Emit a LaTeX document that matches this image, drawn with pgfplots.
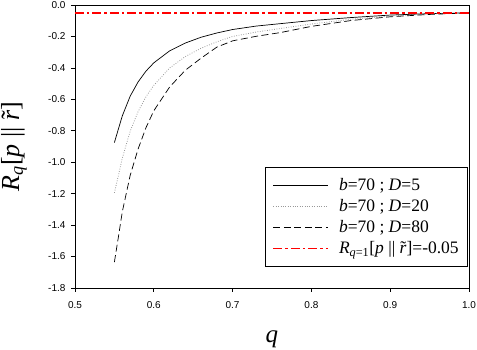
\documentclass[border=0pt]{standalone}
\usepackage{pgfplots}
\pgfplotsset{compat=1.18}
\usepackage{fontspec}
\setmainfont{Liberation Serif}
\newfontfamily\arial{Liberation Sans}
\newcommand{\rtilde}{\textit{r}\llap{\char"02DC\kern0.02em}}

\pgfplotstableread{
q      y
0.550 -0.875
0.555 -0.790
0.560 -0.706
0.570 -0.580
0.580 -0.490
0.590 -0.421
0.600 -0.368
0.620 -0.292
0.640 -0.242
0.660 -0.205
0.680 -0.178
0.700 -0.156
0.730 -0.134
0.760 -0.119
0.800 -0.099
0.850 -0.080
0.900 -0.064
0.950 -0.055
1.000 -0.050
}\dfive

\pgfplotstableread{
q      y
0.550 -1.195
0.555 -1.086
0.560 -0.975
0.570 -0.803
0.580 -0.679
0.590 -0.584
0.600 -0.511
0.620 -0.401
0.640 -0.328
0.660 -0.275
0.680 -0.234
0.700 -0.200
0.730 -0.172
0.760 -0.150
0.800 -0.121
0.850 -0.091
0.900 -0.070
0.950 -0.057
1.000 -0.050
}\dtwenty

\pgfplotstableread{
q      y
0.550 -1.635
0.555 -1.478
0.560 -1.316
0.570 -1.084
0.580 -0.917
0.590 -0.781
0.600 -0.673
0.620 -0.522
0.640 -0.415
0.660 -0.338
0.680 -0.268
0.700 -0.228
0.730 -0.199
0.760 -0.176
0.800 -0.136
0.850 -0.099
0.900 -0.075
0.950 -0.060
1.000 -0.050
}\deighty

\begin{document}
\begin{tikzpicture}
\begin{axis}[
    scale only axis,
    width=394pt, height=283pt,
    xmin=0.5, xmax=1.0,
    ymin=-1.8, ymax=0,
    xtick={0.5,0.6,0.7,0.8,0.9,1.0},
    ytick={-1.8,-1.6,-1.4,-1.2,-1.0,-0.8,-0.6,-0.4,-0.2,0},
    tick align=outside,
    tick pos=left,
    major tick length=4pt,
    tick style={black, line width=0.6pt},
    axis line style={line width=0.8pt},
    /pgf/number format/assume math mode=true,
    ticklabel style={font=\arial\fontsize{10}{12}\selectfont},
    xticklabel style={yshift=-6pt, /pgf/number format/.cd, fixed, fixed zerofill, precision=1},
    yticklabel style={xshift=-2pt, /pgf/number format/.cd, fixed, fixed zerofill, precision=1},
    xlabel={\textit{q}},
    ylabel={\textit{R}\textsubscript{\textit{q}}[\textit{p}~||~\rtilde]},
    xlabel style={at={(axis description cs:0.5,-0.18)}, anchor=center,
        font=\fontsize{25}{28}\selectfont},
    ylabel style={at={(axis description cs:-0.155,0.5)}, anchor=center,
        font=\fontsize{26}{30}\selectfont},
    legend style={at={(rel axis cs:0.9975,0.4276)}, anchor=north east,
        draw=black, line width=0.6pt, font=\fontsize{17.5}{19}\selectfont,
        cells={anchor=west}, inner xsep=7pt, inner ysep=9pt, row sep=3.5pt,
        /tikz/every odd column/.append style={column sep=8pt}},
    legend image code/.code={\draw[#1] (0pt,0pt) -- (55pt,0pt);},
]
\addplot[black, line width=0.7pt] table[x=q, y=y] {\dfive};
\addlegendentry{\textit{b}=70 ; \textit{D}=5}
\addplot[gray!80, line width=0.8pt, dash pattern=on 0.8pt off 1.6pt] table[x=q, y=y] {\dtwenty};
\addlegendentry{\textit{b}=70 ; \textit{D}=20}
\addplot[black, line width=0.7pt, dash pattern=on 7pt off 3.5pt] table[x=q, y=y] {\deighty};
\addlegendentry{\textit{b}=70 ; \textit{D}=80}
\addplot[red, line width=1.4pt, dash pattern=on 9pt off 3pt on 2.5pt off 3pt] coordinates {(0.5,-0.05) (1.0,-0.05)};
\addlegendentry{\textit{R}\textsubscript{\textit{q}=1}[\textit{p}~||~\rtilde]=-0.05}
\end{axis}
\pgfresetboundingbox
\path (-75pt,-62pt) rectangle (402pt,288pt);
\end{tikzpicture}
\end{document}
